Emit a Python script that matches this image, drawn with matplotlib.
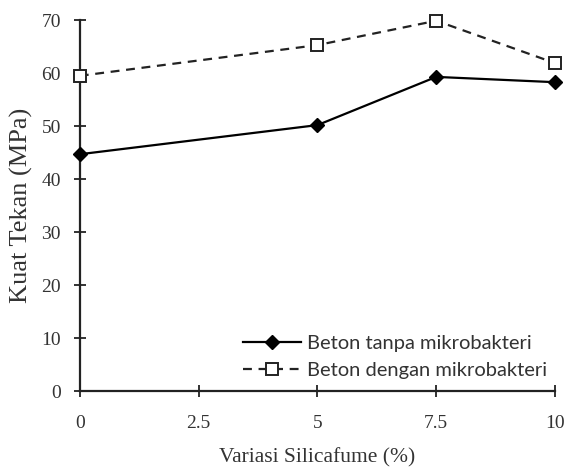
import matplotlib
matplotlib.use("Agg")
import matplotlib.pyplot as plt

plt.rcParams["font.family"] = ["Liberation Serif", "DejaVu Serif"]

silicafume = [0, 5, 7.5, 10]
tanpa = [44.7, 50.2, 59.3, 58.3]
dengan = [59.5, 65.3, 69.9, 61.9]
xticks = [0, 2.5, 5, 7.5, 10]
xticklabels = ["0", "2.5", "5", "7.5", "10"]
yticks = [0, 10, 20, 30, 40, 50, 60, 70]

fig = plt.figure(figsize=(5.74, 4.70), dpi=100)
ax = fig.add_axes([0.139, 0.168, 0.828, 0.789])

ax.plot(silicafume, tanpa, color="black", lw=1.6, marker="D", ms=7,
        label="Beton tanpa mikrobakteri", clip_on=False, zorder=3)
ax.plot(silicafume, dengan, color="#222222", lw=1.6, ls=(0, (4, 3)), marker="s", ms=9,
        mfc="white", mec="#222222", mew=1.4,
        label="Beton dengan mikrobakteri", clip_on=False, zorder=3)

ax.set_xlim(0, 10)
ax.set_ylim(0, 70)
ax.set_xticks(xticks)
ax.set_xticklabels(xticklabels)
ax.set_yticks(yticks)
for s in ["top", "right"]:
    ax.spines[s].set_visible(False)
for s in ["left", "bottom"]:
    ax.spines[s].set_linewidth(1.6)
    ax.spines[s].set_color("#222222")
ax.tick_params(axis="both", direction="inout", length=9, width=1.3,
               labelsize=14, color="#222222", labelcolor="#333333")
ax.tick_params(axis="x", pad=13)
ax.tick_params(axis="y", pad=9)

ax.set_xlabel("Variasi Silicafume (%)", fontsize=15.5,
              color="#333333", labelpad=11)
ax.set_ylabel("Kuat Tekan (MPa)", fontsize=19,
              color="#333333", labelpad=6)

leg = ax.legend(loc="center left", bbox_to_anchor=(0.343, 0.092), frameon=False,
                prop={"family": "Lato", "size": 14.5}, handlelength=2.9,
                labelspacing=0.5, handletextpad=0.3, borderpad=0, borderaxespad=0)
for t in leg.get_texts():
    t.set_color("#333333")

fig.savefig("out.png", dpi=100)
